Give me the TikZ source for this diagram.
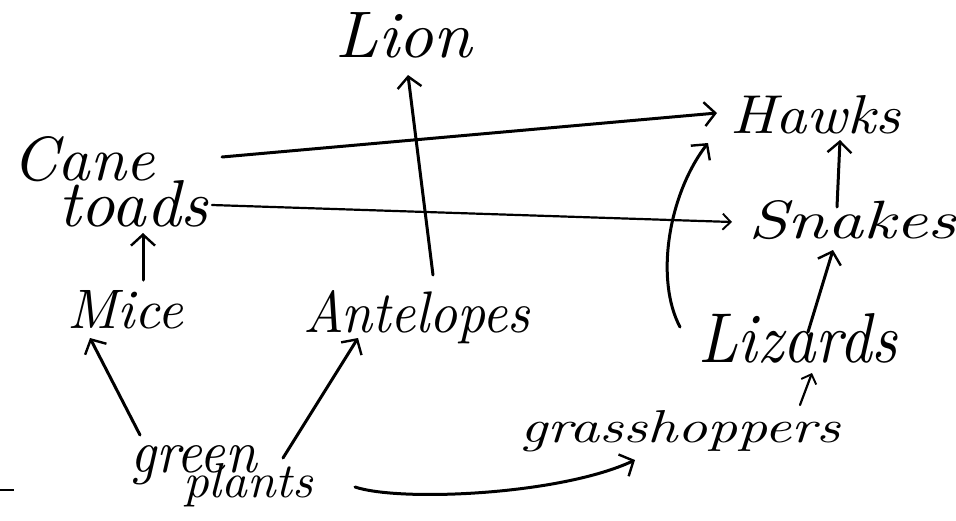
\documentclass[tikz,border=0pt]{standalone}
\usetikzlibrary{arrows.meta}
\newcommand{\hwt}[3]{\resizebox{#1pt}{#2pt}{#3}}
\begin{document}
\begin{tikzpicture}[x=1pt,y=-1pt,
  hw/.style={inner sep=0pt, anchor=base west, font=\itshape},
  link/.style={line width=3pt, line cap=round, -{Straight Barb[length=11pt,width=24pt,line width=2.4pt]}},
  smalllink/.style={line width=2.2pt, line cap=round, -{Straight Barb[length=8pt,width=16pt,line width=1.9pt]}}]
\useasboundingbox (0,0) rectangle (956,520);
\fill[white] (0,0) rectangle (956,520);
% nodes
\node[hw] (lion) at (335,57) {\hwt{137}{45}{Lion}};
\node[hw] (toads) at (12,226) {\raisebox{46pt}{\hwt{143}{44}{Cane}}\hspace{-97pt}\hwt{150}{46}{toads}};
\node[hw] (hawks) at (730,133) {\hwt{170}{38}{Hawks}};
\node[hw] (snakes) at (748,238) {\hwt{208}{38}{Snakes}};
\node[hw] (mice) at (67,328) {\hwt{116}{38}{Mice}};
\node[hw] (antelopes) at (303,332) {\hwt{227}{42}{Antelopes}};
\node[hw] (lizards) at (698,362) {\hwt{199}{49}{Lizards}};
\node[hw] (grass) at (520,442) {\hwt{320}{32}{grasshoppers}};
\node[hw] (green) at (130,472) {\hwt{127}{27}{green}\hspace{-74pt}\raisebox{-25pt}{\hwt{130}{34}{plants}}};
% connectors
\draw[link] ([shift={(210,-69)}]toads.base west) -- ([shift={(-13,-20)}]hawks.base west);
\draw[smalllink] ([shift={(200,-21)}]toads.base west) -- ([shift={(-16,-16)}]snakes.base west);
\draw[link] ([shift={(76,-48)}]mice.base west) -- ([shift={(131,7)}]toads.base west);
\draw[link] ([shift={(130,-57)}]antelopes.base west) -- ([shift={(73,18)}]lion.base west);
\draw[link] ([shift={(10,-37)}]green.base west) -- ([shift={(23,10)}]mice.base west);
\draw[link] ([shift={(153,-14)}]green.base west) -- ([shift={(55,6)}]antelopes.base west);
\draw[link] ([shift={(225,15)}]green.base west) .. controls (400,502) and (560,495) .. ([shift={(115,18)}]grass.base west);
\draw[smalllink] ([shift={(280,-37)}]grass.base west) -- ([shift={(114,11)}]lizards.base west);
\draw[link] ([shift={(110,-30)}]lizards.base west) -- ([shift={(85,12)}]snakes.base west);
\draw[link] ([shift={(-18,-35)}]lizards.base west) .. controls (655,280) and (668,195) .. ([shift={(-22,10)}]hawks.base west);
\draw[link] ([shift={(89,-31)}]snakes.base west) -- ([shift={(110,7)}]hawks.base west);
% stray mark
\draw[line width=2pt] (0,490) -- (14,490);
\end{tikzpicture}
\end{document}
